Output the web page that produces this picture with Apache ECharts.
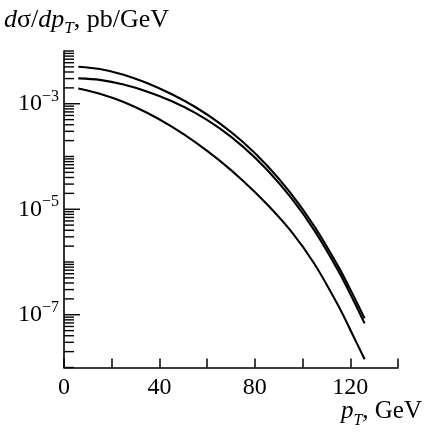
<!DOCTYPE html>
<html>
<head>
<meta charset="utf-8">
<script src="https://cdn.jsdelivr.net/npm/echarts@6/dist/echarts.min.js"></script>
<style>html,body{margin:0;padding:0;background:#fff}#c{width:429px;height:437px}</style>
</head>
<body>
<div id="c"></div>
<script>
// ---- data ----
var pT = [6, 15, 25, 35, 45, 55, 65, 75, 85, 95, 105, 115, 121, 126];
var curveTop = [5.04e-3, 4.56e-3, 3.56e-3, 2.45e-3, 1.53e-3, 8.67e-4, 4.35e-4, 1.88e-4, 6.84e-5, 2.03e-5, 4.72e-6, 8.17e-7, 2.46e-7, 8.53e-8];
var curveMid = [3.03e-3, 2.84e-3, 2.32e-3, 1.69e-3, 1.13e-3, 6.73e-4, 3.49e-4, 1.54e-4, 5.69e-5, 1.69e-5, 3.94e-6, 6.79e-7, 2.01e-7, 6.85e-8];
var curveBot = [1.95e-3, 1.55e-3, 1.08e-3, 6.67e-4, 3.73e-4, 1.88e-4, 8.53e-5, 3.48e-5, 1.26e-5, 3.92e-6, 9.18e-7, 1.48e-7, 4.19e-8, 1.43e-8];
var xTickLabels = [0, 40, 80, 120];
var yLabelExponents = [-3, -5, -7];
var yMinExp = -8, yMaxExp = -2;

var SERIF = '"Liberation Serif","DejaVu Serif",serif';

function pairs(xs, ys) { return xs.map(function (x, i) { return [x, ys[i]]; }); }

// y-axis tick positions (log decades with minor ticks)
var yTicks = [];
for (var n = yMinExp; n < yMaxExp; n++) {
  for (var k = 1; k <= 9; k++) yTicks.push([0, k * Math.pow(10, n), (k === 1 && yLabelExponents.indexOf(n) >= 0) ? 1 : 0]);
}
yTicks.push([0, Math.pow(10, yMaxExp), 0]);

var chart = echarts.init(document.getElementById('c'), null, {renderer: 'canvas'});
var lineStyle = {color: '#000', width: 2.1};
var txt = function (extra) {
  var o = {fontFamily: SERIF, fill: '#000'};
  for (var key in extra) o[key] = extra[key];
  return o;
};
chart.setOption({
  animation: false,
  backgroundColor: '#fff',
  grid: {left: 64, right: 31, top: 51, bottom: 69.5},
  xAxis: {
    type: 'value', min: 0, max: 140, interval: 20,
    axisLine: {lineStyle: {color: '#000', width: 1.6}},
    axisTick: {inside: true, length: 9, lineStyle: {color: '#000', width: 1.5}},
    splitLine: {show: false},
    axisLabel: {
      margin: 8, color: '#000', fontFamily: SERIF, fontSize: 24,
      formatter: function (v) { return xTickLabels.indexOf(v) >= 0 ? String(v) : ''; }
    }
  },
  yAxis: {
    type: 'log', logBase: 10, min: Math.pow(10, yMinExp), max: Math.pow(10, yMaxExp),
    axisLine: {show: true, lineStyle: {color: '#000', width: 1.6}},
    axisTick: {show: false},
    splitLine: {show: false},
    axisLabel: {
      margin: 5, color: '#000',
      formatter: function (v) {
        var e = Math.round(Math.log10(v));
        if (yLabelExponents.indexOf(e) < 0) return '';
        return '{b|10}{s|\u2212' + Math.abs(e) + '}';
      },
      rich: {
        b: {fontFamily: SERIF, fontSize: 24, lineHeight: 30, color: '#000'},
        s: {fontFamily: SERIF, fontSize: 16, lineHeight: 16, verticalAlign: 'top', color: '#000'}
      }
    }
  },
  graphic: [
    {
      type: 'text', left: 4, top: 7,
      style: {
        text: '{i|d}{n|σ/}{i|dp}{t|T}{n|, pb/GeV}',
        rich: {
          i: txt({fontSize: 26, fontStyle: 'italic', lineHeight: 30, verticalAlign: 'top'}),
          n: txt({fontSize: 26, lineHeight: 30, verticalAlign: 'top'}),
          t: txt({fontSize: 17, fontStyle: 'italic', lineHeight: 16, verticalAlign: 'bottom'})
        }
      }
    },
    {
      type: 'text', right: 7, top: 399,
      style: {
        text: '{i|p}{t|T}{n|, GeV}',
        rich: {
          i: txt({fontSize: 25, fontStyle: 'italic', lineHeight: 30, verticalAlign: 'top'}),
          n: txt({fontSize: 25, lineHeight: 30, verticalAlign: 'top'}),
          t: txt({fontSize: 16, fontStyle: 'italic', lineHeight: 16, verticalAlign: 'bottom'})
        }
      }
    }
  ],
  series: [
    {type: 'line', data: pairs(pT, curveTop), showSymbol: false, smooth: 0.3, lineStyle: lineStyle, silent: true},
    {type: 'line', data: pairs(pT, curveMid), showSymbol: false, smooth: 0.3, lineStyle: lineStyle, silent: true},
    {type: 'line', data: pairs(pT, curveBot), showSymbol: false, smooth: 0.3, lineStyle: lineStyle, silent: true},
    {
      type: 'custom', data: yTicks, clip: false, silent: true, encode: {x: 0, y: 1},
      renderItem: function (params, api) {
        var p = api.coord([api.value(0), api.value(1)]);
        var len = api.value(2) ? 16 : 10;
        return {type: 'line', shape: {x1: p[0], y1: p[1], x2: p[0] + len, y2: p[1]},
                style: {stroke: '#000', lineWidth: 1.4}};
      }
    }
  ]
});
</script>
</body>
</html>
